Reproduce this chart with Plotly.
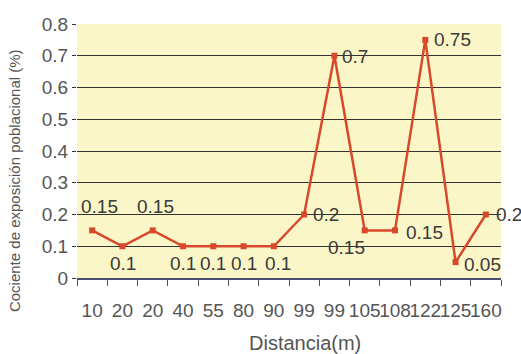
import plotly.graph_objects as go

distancias = ["10", "20", "20", "40", "55", "80", "90", "99", "99", "105", "108", "122", "125", "160"]
cocientes = [0.15, 0.1, 0.15, 0.1, 0.1, 0.1, 0.1, 0.2, 0.7, 0.15, 0.15, 0.75, 0.05, 0.2]
etiquetas = ["0.15", "0.1", "0.15", "0.1", "0.1", "0.1", "0.1", "0.2", "0.7", "0.15", "0.15", "0.75", "0.05", "0.2"]
y_ticks = [0, 0.1, 0.2, 0.3, 0.4, 0.5, 0.6, 0.7, 0.8]
y_tick_text = ["0", "0.1", "0.2", "0.3", "0.4", "0.5", "0.6", "0.7", "0.8"]

# label offsets (pixels) relative to each point
dx = [7, 1, 3, 0, 0, 0, 4, 22, 21, -18, 29, 27, 27, 23]
dy = [24, -17, 24, -17, -17, -17, -17, 0, -1, -17, -2, 0, -2, 0]

xs = list(range(len(distancias)))
FONT = "Liberation Sans, Arial"

fig = go.Figure()
fig.add_trace(go.Scatter(
    x=xs, y=cocientes, mode="lines+markers",
    line=dict(color="#d8482a", width=2.5),
    marker=dict(symbol="square", size=6, color="#d8482a"),
    showlegend=False, hoverinfo="skip",
))

for x, y, t, ox, oy in zip(xs, cocientes, etiquetas, dx, dy):
    fig.add_annotation(x=x, y=y, text=t, showarrow=False, xshift=ox, yshift=oy,
                       xanchor="center", yanchor="middle",
                       font=dict(family=FONT, size=19, color="#3a3a3a"))

fig.add_annotation(xref="paper", yref="paper", x=-0.146, y=0.382,
                   text="Cociente de exposición poblacional (%)", textangle=-90,
                   showarrow=False, xanchor="center", yanchor="middle",
                   font=dict(family=FONT, size=15, color="#555555"))

fig.add_annotation(xref="paper", yref="paper", x=0.538, y=-0.256,
                   text="Distancia(m)", showarrow=False,
                   xanchor="center", yanchor="middle",
                   font=dict(family=FONT, size=20, color="#555555"))

fig.update_layout(
    width=521, height=354,
    margin=dict(l=77, r=20, t=24, b=76, autoexpand=False),
    paper_bgcolor="white",
    plot_bgcolor="#fbf6c8",
    font=dict(family=FONT, color="#555555"),
    xaxis=dict(
        range=[-0.5, 13.5], automargin=False,
        tickmode="array", tickvals=xs, ticktext=distancias, tickangle=0,
        ticks="", showgrid=False, zeroline=False,
        showline=True, linecolor="#4a5070", linewidth=1.5,
        tickfont=dict(size=19, color="#555555"),
        ticklabelstandoff=14,
        minor=dict(tickmode="linear", tick0=-0.5, dtick=1, ticks="outside",
                   ticklen=6, tickcolor="#555555", tickwidth=1, showgrid=False),
    ),
    yaxis=dict(
        range=[0, 0.8], automargin=False,
        tickmode="array", tickvals=y_ticks, ticktext=y_tick_text,
        showgrid=True, gridcolor="#333333", gridwidth=1,
        zeroline=False, showline=False,
        ticks="outside", ticklen=4, tickcolor="#333333",
        tickfont=dict(size=19, color="#555555"),
    ),
)

fig.write_html("out.html")
